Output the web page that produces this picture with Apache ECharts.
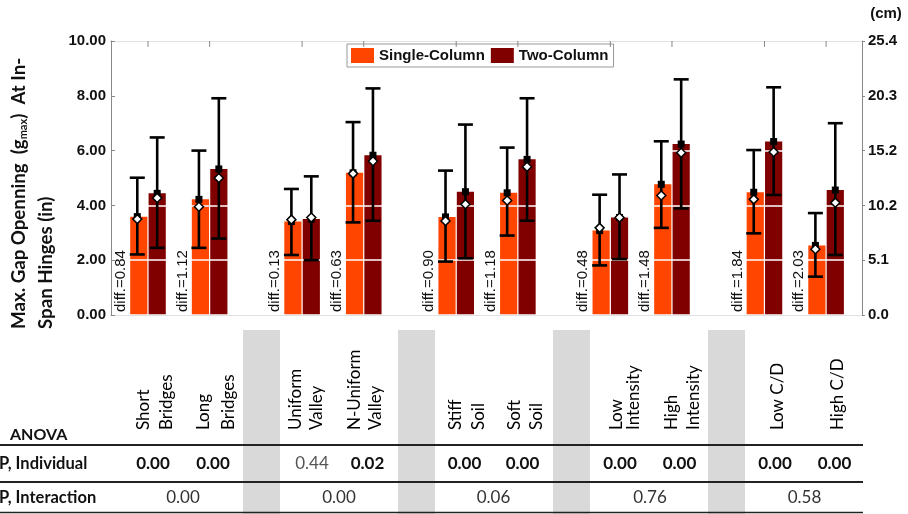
<!DOCTYPE html>
<html>
<head>
<meta charset="utf-8">
<script src="https://cdn.jsdelivr.net/npm/echarts@6/dist/echarts.min.js"></script>
<style>
  html, body { margin: 0; padding: 0; background: #fff; }
  #chart { width: 908px; height: 514px; }
</style>
</head>
<body>
<div id="chart"></div>
<script>
// categories (pairs of conditions)
const groups = ['Short Bridges', 'Long Bridges', 'Uniform Valley', 'N-Uniform Valley', 'Stiff Soil',
                'Soft Soil', 'Low Intensity', 'High Intensity', 'Low C/D', 'High C/D'];

// Single-Column: mean (bar), error bar ends, median (diamond)
const singleMean   = [3.59, 4.22, 3.41, 5.19, 3.58, 4.46, 3.08, 4.77, 4.48, 2.54];
const singleLow    = [2.21, 2.45, 2.19, 3.38, 1.95, 2.90, 1.81, 3.18, 2.98, 1.40];
const singleHigh   = [5.01, 6.00, 4.60, 7.04, 5.27, 6.11, 4.39, 6.34, 6.02, 3.72];
const singleMedian = [3.50, 3.95, 3.48, 5.16, 3.43, 4.18, 3.18, 4.36, 4.22, 2.40];

// Two-Column
const twoMean   = [4.44, 5.33, 3.50, 5.83, 4.50, 5.68, 3.56, 6.24, 6.33, 4.56];
const twoLow    = [2.45, 2.79, 2.00, 3.44, 2.07, 3.44, 2.04, 3.89, 4.38, 2.19];
const twoHigh   = [6.48, 7.91, 5.06, 8.27, 6.95, 7.91, 5.13, 8.60, 8.31, 7.00];
const twoMedian = [4.27, 5.00, 3.56, 5.61, 4.04, 5.41, 3.56, 5.92, 5.95, 4.10];

const diffLabels = ['0.84', '1.12', '0.13', '0.63', '0.90', '1.18', '0.48', '1.48', '1.84', '2.03'];

// ANOVA table
const headerLines = [['Short', 'Bridges'], ['Long', 'Bridges'], ['Uniform', 'Valley'], ['N-Uniform', 'Valley'],
                     ['Stiff', 'Soil'], ['Soft', 'Soil'], ['Low', 'Intensity'], ['High', 'Intensity'],
                     ['Low C/D'], ['High C/D']];
const pIndividual = ['0.00', '0.00', '0.44', '0.02', '0.00', '0.00', '0.00', '0.00', '0.00', '0.00'];
const pIndividualBold = [true, true, false, true, true, true, true, true, true, true];
const pInteraction = ['0.00', '0.00', '0.06', '0.76', '0.58'];

const SINGLE = '#ff4500';
const TWO = '#800000';

// slot position of a category on the (hidden) x value axis: pairs are 4 apart, pair groups 10 apart
function xPos(k) {
    return Math.floor(k / 2) * 10 + (k % 2) * 4;
}

function renderBar(params, api) {
    const k = api.value(0);
    const side = params.seriesIndex === 0 ? -1 : 1;
    const top = api.coord([xPos(k), api.value(1)]);
    const base = api.coord([xPos(k), 0]);
    const cx = top[0] + side * 9.2;
    return {
        type: 'rect',
        shape: { x: cx - 8.6, y: top[1], width: 17.2, height: base[1] - top[1] },
        style: { fill: api.visual('color') }
    };
}

function renderErr(params, api) {
    const k = api.value(0);
    const isSingle = params.seriesIndex === 2;
    const side = isSingle ? -1 : 1;
    const x = xPos(k);
    const m = api.coord([x, api.value(1)]);
    const lo = api.coord([x, api.value(2)]);
    const hi = api.coord([x, api.value(3)]);
    const md = api.coord([x, api.value(4)]);
    const cx = m[0] + side * 9.2 - (isSingle ? 1.5 : 0);
    const black = { stroke: '#000', lineWidth: 2.6 };
    const children = [
        { type: 'line', shape: { x1: cx, y1: hi[1], x2: cx, y2: lo[1] }, style: black },
        { type: 'line', shape: { x1: cx - 7.5, y1: hi[1], x2: cx + 7.5, y2: hi[1] }, style: black },
        { type: 'line', shape: { x1: cx - 7.5, y1: lo[1], x2: cx + 7.5, y2: lo[1] }, style: black },
        { type: 'rect', shape: { x: cx - 3.5, y: m[1] - 3.5, width: 7, height: 7 }, style: { fill: '#000' } },
        {
            type: 'polygon',
            shape: { points: [[cx, md[1] - 4.5], [cx + 4.5, md[1]], [cx, md[1] + 4.5], [cx - 4.5, md[1]]] },
            style: { fill: '#fff', stroke: '#000', lineWidth: 1.5 }
        }
    ];
    if (isSingle) {
        const base = api.coord([x, 0]);
        const top = api.coord([x, 10]);
        children.push({
            type: 'text', x: base[0] - 27, y: base[1] - 3, rotation: Math.PI / 2,
            style: {
                text: 'diff.=' + diffLabels[k], fill: '#111', align: 'left', verticalAlign: 'middle',
                font: '15px "Liberation Sans", Arial, sans-serif'
            }
        });
        children.push({
            type: 'line', shape: { x1: top[0], y1: top[1], x2: top[0], y2: top[1] + 6 },
            style: { stroke: '#888', lineWidth: 1 }
        });
    }
    return { type: 'group', children: children };
}

const tableFont = 'Lato, "Noto Sans", sans-serif';
const colX = [153, 213, 312, 367.5, 464.5, 522.5, 620, 679.5, 775, 834.5];
const headerX = [[141.5, 165], [201.5, 227], [294, 315], [352.5, 374], [454, 477],
                 [512.5, 535], [615, 632], [669.5, 691.5], [775.5], [835.5]];
const interX = [183, 339, 493.5, 650, 804.5];
const grayX = [243, 398, 553, 708];

const graphics = [];
grayX.forEach(function (gx) {
    graphics.push({ type: 'rect', shape: { x: gx, y: 330, width: 37, height: 184 }, style: { fill: '#d9d9d9' }, z: 0 });
});
headerLines.forEach(function (lines, i) {
    lines.forEach(function (t, j) {
        graphics.push({
            type: 'text', x: headerX[i][j] + 2, y: 430, rotation: Math.PI / 2,
            style: { text: t, fill: '#000', font: '17px ' + tableFont, align: 'left', verticalAlign: 'middle' }
        });
    });
});
graphics.push({ type: 'text', x: 10, y: 435, style: { text: 'ANOVA', fill: '#111', font: 'bold 16px ' + tableFont, align: 'left', verticalAlign: 'middle' } });
graphics.push({ type: 'text', x: -1, y: 464, style: { text: 'P, Individual', fill: '#111', font: 'bold 16.5px ' + tableFont, align: 'left', verticalAlign: 'middle' } });
graphics.push({ type: 'text', x: -1, y: 498, style: { text: 'P, Interaction', fill: '#111', font: 'bold 16.5px ' + tableFont, align: 'left', verticalAlign: 'middle' } });
pIndividual.forEach(function (v, i) {
    graphics.push({
        type: 'text', x: colX[i], y: 464,
        style: {
            text: v, fill: pIndividualBold[i] ? '#111' : '#555',
            font: (pIndividualBold[i] ? 'bold ' : '') + '17px ' + tableFont, align: 'center', verticalAlign: 'middle'
        }
    });
});
pInteraction.forEach(function (v, i) {
    graphics.push({
        type: 'text', x: interX[i], y: 498,
        style: { text: v, fill: '#333', font: '17px ' + tableFont, align: 'center', verticalAlign: 'middle' }
    });
});
[[445, 2], [482, 2], [512.5, 1.5]].forEach(function (l) {
    graphics.push({ type: 'line', shape: { x1: 0, y1: l[0], x2: 863, y2: l[0] }, style: { stroke: '#222', lineWidth: l[1] } });
});
// y axis title and unit label
graphics.push({
    type: 'text', x: 19, y: 329, rotation: Math.PI / 2,
    style: {
        text: '{a|Max. Gap Openning  (g}{s|max}{a|)  At In-}', align: 'left', verticalAlign: 'middle',
        rich: {
            a: { font: 'bold 18.7px ' + tableFont, fill: '#111' },
            s: { font: 'bold 11px ' + tableFont, fill: '#111', padding: [9, 0, 0, 0] }
        }
    }
});
graphics.push({
    type: 'text', x: 46, y: 329, rotation: Math.PI / 2,
    style: { text: 'Span Hinges (in)', fill: '#111', font: 'bold 18.7px ' + tableFont, align: 'left', verticalAlign: 'middle' }
});
graphics.push({
    type: 'text', x: 886, y: 14,
    style: { text: '(cm)', fill: '#111', font: 'bold 15px "Liberation Sans", Arial, sans-serif', align: 'center', verticalAlign: 'middle' }
});

const axisFont = { fontFamily: '"Liberation Sans", Arial, sans-serif', fontWeight: 'bold', fontSize: 15, color: '#111' };
const grayLine = { show: true, onZero: false, lineStyle: { color: '#888', width: 1 } };

const chart = echarts.init(document.getElementById('chart'));
chart.setOption({
    animation: false,
    backgroundColor: '#fff',
    grid: { left: 111, right: 46, top: 41, bottom: 199 },
    legend: {
        data: [
            { name: 'Single-Column', icon: 'rect', itemStyle: { color: SINGLE } },
            { name: 'Two-Column', icon: 'rect', itemStyle: { color: TWO } }
        ],
        left: 347, top: 44,
        itemWidth: 23, itemHeight: 15, itemGap: 6,
        padding: [4, 5, 4, 4],
        borderColor: '#999', borderWidth: 1, backgroundColor: '#fff',
        textStyle: { fontFamily: axisFont.fontFamily, fontWeight: 'bold', fontSize: 15, color: '#111' },
        selectedMode: false
    },
    xAxis: [
        { type: 'value', min: -2.4, max: 46.33, position: 'bottom', axisLine: grayLine, axisTick: { show: false }, axisLabel: { show: false }, splitLine: { show: false } },
        { type: 'value', min: -2.4, max: 46.33, position: 'top', axisLine: grayLine, axisTick: { show: false }, axisLabel: { show: false }, splitLine: { show: false } }
    ],
    yAxis: [
        {
            type: 'value', min: 0, max: 10, interval: 2, position: 'left', z: 3,
            axisLine: grayLine,
            axisTick: { show: true, inside: true, length: 4, lineStyle: { color: '#888' } },
            axisLabel: Object.assign({ margin: 5, formatter: function (v) { return v.toFixed(2); } }, axisFont),
            splitLine: { show: true, lineStyle: { color: '#fff', width: 1.5 } }
        },
        {
            type: 'value', min: 0, max: 25.4, interval: 5.08, position: 'right',
            axisLine: grayLine,
            axisTick: { show: true, length: 3, lineStyle: { color: '#888' } },
            axisLabel: Object.assign({ margin: 6, formatter: function (v) { return v.toFixed(1); } }, axisFont),
            splitLine: { show: false }
        }
    ],
    graphic: graphics,
    series: [
        {
            name: 'Single-Column', type: 'custom', renderItem: renderBar, z: 2,
            itemStyle: { color: SINGLE },
            data: singleMean.map(function (v, k) { return [k, v]; })
        },
        {
            name: 'Two-Column', type: 'custom', renderItem: renderBar, z: 2,
            itemStyle: { color: TWO },
            data: twoMean.map(function (v, k) { return [k, v]; })
        },
        {
            name: 'Single-Column error', type: 'custom', renderItem: renderErr, z: 5,
            data: singleMean.map(function (v, k) { return [k, v, singleLow[k], singleHigh[k], singleMedian[k]]; })
        },
        {
            name: 'Two-Column error', type: 'custom', renderItem: renderErr, z: 5,
            data: twoMean.map(function (v, k) { return [k, v, twoLow[k], twoHigh[k], twoMedian[k]]; })
        }
    ]
});
</script>
</body>
</html>
